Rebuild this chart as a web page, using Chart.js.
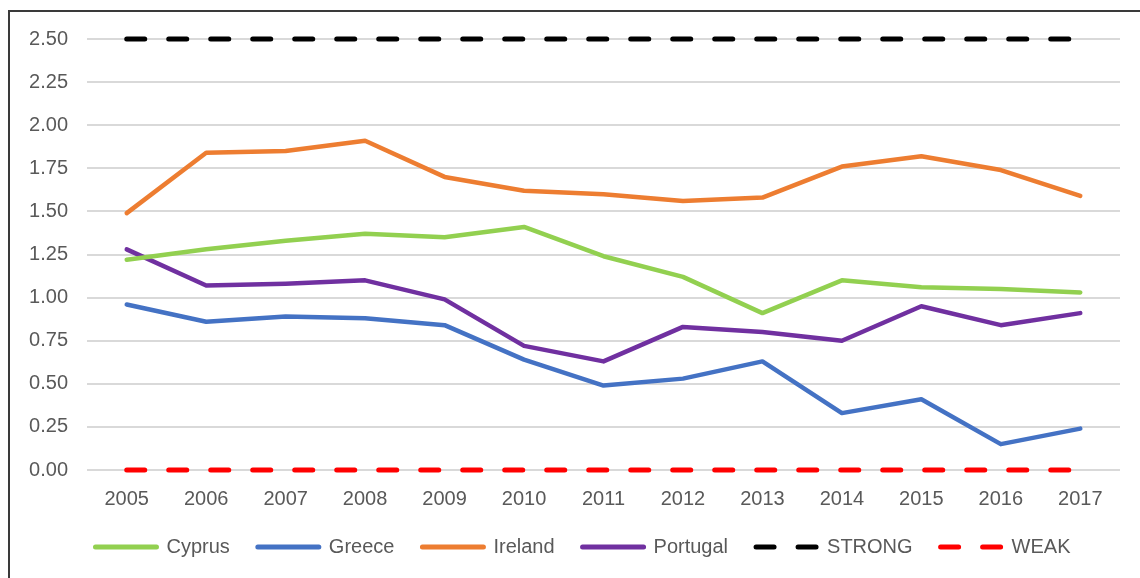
<!DOCTYPE html>
<html>
<head>
<meta charset="utf-8">
<script src="https://cdn.jsdelivr.net/npm/chart.js@4"></script>
<style>
  html, body { margin: 0; padding: 0; background: #fff; overflow: hidden; }
  #wrap { position: relative; width: 1140px; height: 578px; }
  #frame { position: absolute; left: 8px; top: 10px; width: 1200px; height: 700px; border: 2px solid #3a3a3a; box-sizing: border-box; }
  #chartBox { position: absolute; left: 0; top: 0; width: 1140px; height: 578px; }
</style>
</head>
<body>
<div id="wrap">
  <div id="frame"></div>
  <div id="chartBox"><canvas id="chart"></canvas></div>
</div>
<script>
// Years on the x axis
const years = ["2005", "2006", "2007", "2008", "2009", "2010", "2011", "2012", "2013", "2014", "2015", "2016", "2017"];

// Series values
const cyprus   = [1.22, 1.28, 1.33, 1.37, 1.35, 1.41, 1.24, 1.12, 0.91, 1.10, 1.06, 1.05, 1.03];
const greece   = [0.96, 0.86, 0.89, 0.88, 0.84, 0.64, 0.49, 0.53, 0.63, 0.33, 0.41, 0.15, 0.24];
const ireland  = [1.49, 1.84, 1.85, 1.91, 1.70, 1.62, 1.60, 1.56, 1.58, 1.76, 1.82, 1.74, 1.59];
const portugal = [1.28, 1.07, 1.08, 1.10, 0.99, 0.72, 0.63, 0.83, 0.80, 0.75, 0.95, 0.84, 0.91];
const strong   = [2.5, 2.5, 2.5, 2.5, 2.5, 2.5, 2.5, 2.5, 2.5, 2.5, 2.5, 2.5, 2.5];
const weak     = [0, 0, 0, 0, 0, 0, 0, 0, 0, 0, 0, 0, 0];

// Y axis ticks
const yMin = 0;
const yMax = 2.5;
const yStep = 0.25;

const textColor = "#595959";
const fontFamily = "'Liberation Sans', Arial, sans-serif";

function solid(label, data, color){
  return {
    label: label,
    data: data,
    borderColor: color,
    backgroundColor: color,
    borderWidth: 4.5,
    borderCapStyle: "round",
    borderJoinStyle: "round",
    pointRadius: 0,
    tension: 0,
    fill: false,
    clip: false
  };
}

function dashed(label, data, color){
  return {
    label: label,
    data: data,
    borderColor: color,
    backgroundColor: color,
    borderWidth: 5,
    borderDash: [18, 24],
    borderCapStyle: "round",
    pointRadius: 0,
    tension: 0,
    fill: false,
    clip: false
  };
}

// legend lines take dash and width from the dataset itself
function legendLabels(chart){
  const items = Chart.defaults.plugins.legend.labels.generateLabels(chart);
  items.forEach(item => {
    const ds = chart.data.datasets[item.datasetIndex];
    item.lineDash = ds.borderDash || [];
    item.lineWidth = 5;
    item.lineCap = "round";
    item.strokeStyle = ds.borderColor;
  });
  return items;
}

const ctx = document.getElementById("chart");

new Chart(ctx, {
  type: "line",
  data: {
    labels: years,
    datasets: [
      solid("Cyprus", cyprus, "#92d050"),
      solid("Greece", greece, "#4472c4"),
      solid("Ireland", ireland, "#ed7d31"),
      solid("Portugal", portugal, "#7030a0"),
      dashed("STRONG", strong, "#000000"),
      dashed("WEAK", weak, "#ff0000")
    ]
  },
  options: {
    responsive: true,
    maintainAspectRatio: false,
    animation: false,
    layout: {
      padding: { left: 28, right: 2, top: 39, bottom: 11 }
    },
    scales: {
      x: {
        offset: true,
        grid: { display: false, drawTicks: false },
        border: { display: false },
        ticks: {
          color: textColor,
          font: { family: fontFamily, size: 20 },
          padding: 17,
          maxRotation: 0
        },
        afterFit: s => { s.height = 39; }
      },
      y: {
        min: yMin,
        max: yMax,
        grid: { color: "#d9d9d9", lineWidth: 2, drawTicks: false },
        border: { display: false },
        ticks: {
          stepSize: yStep,
          color: textColor,
          font: { family: fontFamily, size: 20 },
          padding: 19,
          callback: v => Number(v).toFixed(2)
        },
        afterFit: s => { s.width = 59; }
      },
      // empty right axis, only to leave room on the right of the plot
      yRight: {
        position: "right",
        min: yMin,
        max: yMax,
        grid: { display: false, drawTicks: false },
        border: { display: false },
        ticks: { display: false },
        afterFit: s => { s.width = 18; }
      }
    },
    plugins: {
      tooltip: { enabled: false },
      legend: {
        position: "bottom",
        labels: {
          usePointStyle: true,
          pointStyle: "line",
          pointStyleWidth: 61,
          color: textColor,
          font: { family: fontFamily, size: 20 },
          padding: 28,
          generateLabels: legendLabels
        }
      }
    }
  }
});
</script>
</body>
</html>
